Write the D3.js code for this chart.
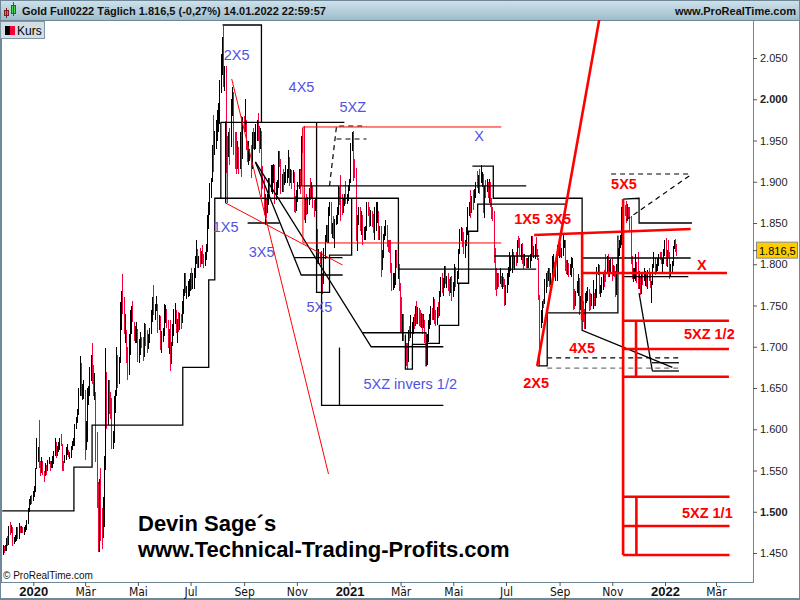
<!DOCTYPE html>
<html><head><meta charset="utf-8">
<script src="https://cdn.jsdelivr.net/npm/d3@7"></script>
<style>body{margin:0;background:#fff}svg{display:block}</style>
</head><body><svg id="c" width="800" height="600"></svg>
<script>
// ---------- DATA ----------
// daily bars grouped by month: [low, high, up(1)/down(0)]
const bars2019 = [
 [[1448,1460,1],[1450,1458,0],[1452,1460,1],[1453,1468,1]],
 [[1458,1471,0],[1460,1483,1],[1472,1488,0],[1474,1484,1],[1459,1482,0],[1461,1470,1],[1463,1472,1],[1464,1481,1],[1467,1482,0],[1467,1486,1],
  [1474,1483,0],[1474,1483,1],[1474,1481,0],[1472,1482,1],[1475,1484,1],[1478,1490,1],[1485,1504,1],[1500,1515,1],[1508,1519,1],[1510,1520,0],[1513,1525,1]]
];
const bars2020 = [
 [[1518,1531,1],[1524,1553,1],[1552,1590,1],[1560,1579,1],[1553,1611,0],[1543,1562,0],[1547,1566,1],[1545,1562,0],[1536,1550,0],[1543,1559,1],[1545,1557,0],
  [1550,1563,1],[1558,1566,1],[1550,1562,0],[1553,1562,1],[1553,1567,1],[1558,1574,1],[1568,1589,1],[1565,1584,0],[1567,1580,1],[1572,1585,1],[1575,1590,1]],
 [[1580,1594,0],[1550,1582,0],[1550,1562,0],[1559,1569,1],[1563,1578,1],[1569,1582,1],[1566,1575,0],[1564,1573,1],[1565,1580,1],[1575,1586,1],
  [1580,1589,1],[1580,1606,1],[1600,1615,1],[1608,1625,1],[1617,1650,1],[1640,1689,1],[1640,1680,0],[1635,1655,1],[1637,1660,1],[1563,1647,0]],
 [[1575,1610,1],[1585,1650,1],[1630,1652,1],[1640,1675,1],[1658,1690,1],[1655,1704,0],[1640,1678,0],[1635,1668,1],[1560,1645,0],[1504,1597,0],
  [1451,1536,0],[1451,1540,1],[1464,1553,0],[1455,1505,0],[1468,1518,1],[1482,1568,1],[1551,1698,1],[1600,1670,0],[1605,1660,1],[1618,1660,0],[1612,1645,0],[1576,1638,0]],
 [[1576,1598,1],[1583,1640,1],[1620,1648,1],[1640,1700,1],[1650,1690,0],[1655,1688,1],[1680,1754,1],[1720,1767,1],[1740,1788,0],[1716,1760,0],[1705,1740,1],
  [1680,1720,0],[1660,1700,0],[1666,1715,1],[1690,1745,1],[1715,1750,1],[1730,1755,0],[1707,1730,0],[1705,1725,1],[1705,1730,1],[1682,1721,0]],
 [[1680,1710,1],[1690,1718,1],[1698,1712,0],[1683,1712,0],[1688,1729,1],[1701,1727,0],[1692,1720,0],[1697,1716,1],[1704,1723,1],[1715,1744,1],
  [1730,1760,1],[1738,1775,0],[1733,1752,1],[1743,1762,1],[1717,1752,0],[1720,1738,1],[1696,1737,0],[1693,1719,1],[1706,1723,1],[1713,1752,1]],
 [[1729,1751,1],[1723,1746,0],[1699,1733,0],[1691,1722,1],[1671,1733,0],[1679,1706,1],[1701,1727,1],[1713,1746,1],[1727,1753,1],[1717,1745,0],[1705,1734,1],
  [1718,1742,0],[1720,1741,1],[1721,1740,0],[1729,1756,1],[1740,1770,1],[1762,1789,1],[1765,1790,0],[1758,1774,1],[1760,1780,1],[1762,1782,1],[1767,1790,1]],
 [[1769,1796,0],[1770,1790,1],[1770,1795,1],[1783,1810,1],[1800,1829,1],[1796,1818,0],[1795,1810,1],[1797,1820,0],[1800,1816,1],[1800,1823,0],[1795,1813,0],
  [1798,1815,1],[1805,1825,1],[1815,1860,1],[1843,1875,1],[1860,1898,1],[1880,1905,1],[1900,1945,1],[1912,1981,0],[1933,1962,1],[1940,1975,1],[1950,1987,1]],
 [[1960,1995,1],[1970,2023,1],[2008,2055,1],[2030,2075,1],[2015,2089,0],[2010,2040,1],[1911,2040,0],[1874,1955,0],[1930,1960,1],[1920,1965,0],[1942,2000,1],
  [1980,2015,1],[1932,2009,0],[1915,1960,0],[1910,1960,0],[1915,1950,1],[1910,1942,0],[1915,1960,1],[1906,1980,0],[1928,1978,1],[1960,1980,0]],
 [[1960,2000,1],[1938,1975,0],[1924,1950,0],[1920,1950,1],[1925,1940,1],[1905,1945,0],[1915,1960,1],[1940,1965,0],[1938,1960,1],[1940,1970,1],[1950,1975,1],
  [1950,1983,0],[1935,1968,0],[1940,1965,1],[1882,1962,0],[1891,1919,0],[1860,1907,0],[1848,1885,1],[1856,1880,0],[1862,1885,1],[1872,1905,1],[1880,1905,0]],
 [[1887,1920,1],[1885,1920,1],[1898,1922,1],[1873,1920,0],[1878,1900,1],[1884,1902,1],[1892,1937,1],[1918,1937,0],[1885,1927,0],[1887,1910,1],[1888,1915,0],
  [1896,1912,1],[1898,1920,1],[1899,1916,1],[1904,1939,1],[1895,1930,0],[1898,1915,1],[1891,1914,0],[1898,1914,1],[1863,1912,0],[1862,1883,0],[1864,1890,1]],
 [[1875,1900,1],[1891,1916,1],[1885,1915,0],[1895,1955,1],[1935,1965,0],[1854,1967,0],[1850,1880,1],[1860,1885,0],[1861,1881,1],[1872,1893,1],[1878,1905,0],
  [1880,1900,1],[1868,1895,0],[1857,1878,0],[1865,1880,1],[1830,1879,0],[1800,1843,0],[1800,1818,1],[1800,1815,0],[1774,1816,0],[1764,1790,0]],
 [[1776,1820,1],[1806,1836,1],[1827,1848,1],[1826,1848,0],[1826,1870,1],[1858,1875,1],[1837,1876,0],[1832,1850,1],[1831,1858,0],[1820,1855,1],[1848,1860,1],
  [1849,1870,1],[1860,1895,1],[1872,1894,0],[1852,1908,0],[1860,1885,0],[1862,1880,1],[1871,1885,1],[1873,1901,0],[1873,1885,1],[1877,1896,1],[1889,1903,1]]
];
const bars2021 = [
 [[1899,1947,1],[1937,1960,1],[1901,1962,0],[1904,1927,0],[1828,1917,0],[1816,1860,1],[1848,1870,1],[1840,1870,0],[1835,1865,1],[1823,1860,0],
  [1829,1845,1],[1830,1846,1],[1840,1875,1],[1858,1875,0],[1845,1870,0],[1846,1866,1],[1845,1864,0],[1838,1861,0],[1829,1869,1],[1840,1875,1]],
 [[1850,1875,1],[1829,1865,0],[1830,1846,1],[1785,1846,0],[1793,1817,1],[1808,1837,1],[1830,1846,1],[1834,1854,1],[1821,1848,0],[1815,1829,0],
  [1814,1830,0],[1790,1829,0],[1768,1801,0],[1769,1790,1],[1771,1790,1],[1775,1817,1],[1795,1817,0],[1782,1812,1],[1768,1800,0],[1717,1777,0]],
 [[1718,1760,0],[1707,1740,1],[1707,1740,0],[1690,1716,0],[1677,1705,0],[1673,1704,0],[1681,1720,1],[1707,1725,0],[1711,1739,1],[1698,1730,1],[1715,1736,1],
  [1722,1740,0],[1725,1750,1],[1727,1755,0],[1727,1748,1],[1725,1747,0],[1724,1745,0],[1723,1741,1],[1716,1740,0],[1723,1740,1],[1705,1732,0],[1677,1714,0],[1678,1716,1]],
 [[1706,1732,1],[1722,1740,1],[1726,1750,1],[1733,1747,0],[1733,1760,1],[1728,1758,0],[1725,1745,0],[1726,1748,1],[1735,1754,0],[1737,1767,1],[1760,1785,1],
  [1765,1790,0],[1762,1783,1],[1771,1798,1],[1776,1798,0],[1771,1786,1],[1767,1790,0],[1761,1782,0],[1765,1785,1],[1756,1786,0],[1760,1779,1]],
 [[1767,1800,1],[1773,1797,0],[1776,1792,1],[1782,1818,1],[1812,1843,1],[1828,1845,1],[1821,1844,0],[1813,1839,0],[1808,1830,1],[1822,1845,1],
  [1836,1869,1],[1858,1875,1],[1856,1890,0],[1862,1883,1],[1866,1890,0],[1874,1891,1],[1880,1900,1],[1893,1913,0],[1886,1908,1],[1885,1916,0]],
 [[1899,1920,1],[1894,1912,1],[1862,1910,0],[1856,1895,1],[1880,1902,0],[1888,1903,1],[1880,1900,0],[1874,1903,1],[1870,1900,0],[1855,1880,0],[1852,1869,0],
  [1802,1865,0],[1769,1820,0],[1761,1795,0],[1770,1790,1],[1772,1790,0],[1776,1795,1],[1773,1786,0],[1770,1790,1],[1772,1785,0],[1750,1782,0],[1751,1775,1]],
 [[1765,1790,1],[1775,1797,1],[1785,1815,1],[1792,1810,1],[1790,1818,1],[1795,1815,0],[1793,1810,1],[1798,1815,0],[1802,1830,1],[1820,1834,0],[1811,1832,0],
  [1805,1825,1],[1800,1826,0],[1794,1813,0],[1798,1812,1],[1795,1808,0],[1795,1808,1],[1795,1810,1],[1795,1812,1],[1804,1834,1],[1811,1834,0]],
 [[1807,1822,1],[1806,1824,1],[1810,1833,0],[1805,1819,0],[1757,1808,0],[1677,1763,0],[1723,1745,1],[1729,1755,1],[1747,1758,0],[1752,1782,1],[1765,1790,1],
  [1773,1792,0],[1780,1795,1],[1773,1795,0],[1775,1790,1],[1780,1810,1],[1794,1812,1],[1784,1803,0],[1780,1800,1],[1780,1823,1],[1810,1820,0],[1808,1824,1]],
 [[1809,1826,0],[1808,1820,1],[1810,1837,1],[1820,1830,1],[1792,1830,0],[1788,1805,0],[1787,1805,1],[1785,1802,0],[1787,1800,1],[1785,1809,1],[1795,1808,1],
  [1745,1795,0],[1746,1770,0],[1750,1768,1],[1765,1780,1],[1762,1788,1],[1738,1783,0],[1745,1761,1],[1740,1760,1],[1730,1755,0],[1721,1746,0],[1722,1765,1]],
 [[1753,1767,1],[1756,1772,1],[1743,1770,0],[1745,1765,0],[1749,1764,1],[1746,1781,1],[1750,1765,0],[1749,1770,1],[1759,1797,1],[1787,1800,1],[1764,1799,0],
  [1760,1775,1],[1765,1785,1],[1769,1788,1],[1772,1793,0],[1778,1813,0],[1790,1810,1],[1785,1812,0],[1785,1805,1],[1790,1806,1],[1780,1808,0]],
 [[1786,1799,1],[1785,1798,0],[1760,1792,0],[1763,1800,1],[1790,1820,1],[1810,1830,1],[1820,1835,1],[1823,1870,1],[1849,1868,1],[1857,1875,1],[1858,1872,0],
  [1850,1877,0],[1852,1873,1],[1855,1870,0],[1842,1870,0],[1800,1858,0],[1782,1810,0],[1778,1795,1],[1782,1796,1],[1780,1813,1],[1777,1803,0],[1770,1815,0]],
 [[1770,1792,1],[1763,1785,0],[1764,1788,1],[1775,1790,0],[1780,1795,1],[1774,1792,1],[1773,1790,0],[1770,1793,1],[1780,1795,0],[1771,1790,0],[1753,1780,1],
  [1775,1800,1],[1795,1815,1],[1787,1807,0],[1788,1800,1],[1792,1808,1],[1798,1812,1],[1805,1815,0],[1800,1815,0],[1790,1808,1],[1800,1818,1],[1810,1830,1]]
];
const bars2022 = [
 [[1798,1832,0],[1797,1817,1],[1808,1830,0],[1782,1815,0],[1785,1800,1],[1789,1804,1],[1798,1822,1],[1818,1829,1],[1815,1831,0],[1810,1825,0]]
];
const firstMonth = [2019, 10];
const firstDay = "2019-11-26", lastDay = "2022-01-15";
const lastPrice = 1816.5;

const priceTicks = [1450,1500,1550,1600,1650,1700,1750,1800,1850,1900,1950,2000,2050];
const boldTicks = [1500, 2000];
const monthNames = ["Jan","Feb","Mär","Apr","Mai","Jun","Jul","Aug","Sep","Okt","Nov","Dez"];

// annotation points: [days since 2020-01-01, price]
const blackLines = [
 [[-36,1501],[47,1501],[47,1554],[68,1554],[68,1605],[173,1605],[173,1675],[203,1675],[203,1781],[210,1781],[210,1880],[422.5,1880],[422.5,1794],[582,1794]],
 [[219,2090],[264,2090],[264,1972]],
 [[217,1972],[360,1972]],
 [[217,1972],[217,1880]],
 [[222.6,1973],[222.6,1874]],
 [[248,1850],[285,1850]],
 [[257,1924],[310,1787],[358,1787]],
 [[257,1924],[391,1700],[474.5,1700]],
 [[380.9,1717],[454.9,1717]],
 [[333.6,1814],[333.6,1629],[474.5,1629]],
 [[354.3,1699],[354.3,1629]],
 [[327.8,1972],[327.8,1766],[342.8,1766],[342.8,1811],[368.4,1811],[368.4,1880]],
 [[302.4,1808],[357.8,1808]],
 [[304.7,1895],[570.4,1895]],
 [[454.5,1704],[469.9,1704],[469.9,1726],[492.2,1726],[492.2,1777],[503.7,1777],[503.7,1840],[514.2,1840],[514.2,1873],[617,1873]],
 [[430.6,1714],[430.6,1673],[438.7,1673],[438.7,1703],[454.5,1703]],
 [[454.5,1717],[454.5,1676]],
 [[508.1,1919],[532.3,1919],[532.3,1880],[635.1,1880],[635.1,1720],[739.5,1675]],
 [[594.7,1741],[676.5,1741],[676.5,1835]],
 [[682.5,1879],[701,1880],[701,1850],[762.2,1850]],
 [[635.1,1807.6],[760.7,1807.6]],
 [[681.7,1785],[758,1785]],
 [[533.4,1810],[585.4,1810]],
 [[716,1680.6],[747.2,1680.6]],
 [[716,1670.6],[747.2,1670.6]],
 [[701,1765],[716.3,1671]],
 [[583,1676.7],[594.7,1676.7],[594.7,1741]]
];
const blackDashed = [
 [[342.8,1895],[350.9,1967.6],[385.5,1967.6]],
 [[350.9,1951.8],[385.5,1951.8]],
 [[668.6,1909.4],[762.2,1909.4]],
 [[686,1853.6],[762.2,1909.4]],
 [[594.7,1686.4],[747.2,1686.4]]
];
const grayDashed = [
 [[594.7,1674.2],[747.2,1674.2]]
];
const redThin = [
 [[222.6,1874.2],[357.8,1799.1]],
 [[229.6,2024.5],[341.6,1545.8]],
 [[312,1966.4],[541.5,1966.4]],
 [[312,1966.4],[312,1825.8]],
 [[312,1825.8],[541.5,1825.8]]
];
const redThick = [
 [[583.1,1676.7],[655.5,2100]],
 [[579.6,1835.5],[760.7,1842.7]],
 [[635.1,1839],[635.1,1732]],
 [[635.1,1789.4],[802.7,1789.4]],
 [[682.5,1879],[682.5,1447.6]],
 [[682.5,1731.6],[805,1731.6]],
 [[682.5,1697.3],[805,1697.3]],
 [[682.5,1663.7],[805,1663.7]],
 [[697.5,1731.6],[697.5,1663.7]],
 [[682.5,1518.2],[805.7,1518.2]],
 [[682.5,1482.7],[805.7,1482.7]],
 [[682.5,1447.6],[805.7,1447.6]],
 [[697.9,1518.2],[697.9,1447.6]]
];
const blueLabels = [
 ["2X5",220.3,2047.6],["4X5",295.4,2008.8],["5XZ",354.3,1984.5],["X",510.3,1949.4],
 ["1X5",207.6,1839.1],["3X5",249.2,1808.8],["5X5",316.2,1742.1],["5XZ invers 1/2",382.1,1648.8]
];
const redLabels = [
 ["1X5",556.5,1849.3],["3X5",592.3,1849.3],["5X5",668.6,1891.2],["2X5",567,1650],
 ["4X5",620.1,1692.4],["X",767.9,1793],["5XZ 1/2",752.9,1709.4],["5XZ 1/1",750.6,1492.4]
];

// ---------- CHART ----------
const W = 800, H = 600;
const P = {left: 2, right: 753, top: 20, bottom: 582};
const svg = d3.select("#c");
const T0 = new Date(2020, 0, 1);
const dayDate = d => new Date(T0.getTime() + d * 864e5);
const x = d3.scaleTime().domain([T0, new Date(2022, 0, 1)]).range([33.3, 665]);
const y = d3.scaleLinear().domain([1450, 2050]).range([553, 58]);
const CRED = "#f5003a", RED = "#ff0000", BLUE = "#5252e2";
const FONT = "Arial, 'Liberation Sans', sans-serif";
const de = d3.formatLocale({decimal: ",", thousands: ".", grouping: [3], currency: ["", "€"]});
const fmt = de.format(",");

// candles
const candles = [];
const fd = new Date(firstDay + "T00:00:00"), ld = new Date(lastDay + "T00:00:00");
[...bars2019, ...bars2020, ...bars2021, ...bars2022].forEach((list, mi) => {
  let s = new Date(firstMonth[0], firstMonth[1] + mi, 1), e = new Date(firstMonth[0], firstMonth[1] + mi + 1, 1);
  if (s < fd) s = fd; if (e > ld) e = ld;
  list.forEach((b, i) => candles.push({date: new Date(+s + (i + 0.5) * (e - s) / list.length), lo: b[0], hi: b[1], up: b[2]}));
});

// background & frame
const defs = svg.append("defs");
const g1 = defs.append("linearGradient").attr("id", "hdr").attr("x1", 0).attr("y1", 0).attr("x2", 0).attr("y2", 1);
g1.append("stop").attr("offset", "0%").attr("stop-color", "#cfe3ec");
g1.append("stop").attr("offset", "100%").attr("stop-color", "#9fbccb");
defs.append("clipPath").attr("id", "plot").append("rect")
  .attr("x", P.left).attr("y", P.top).attr("width", P.right - P.left).attr("height", P.bottom - P.top);

svg.append("rect").attr("width", W).attr("height", H).attr("fill", "#fff");
svg.append("rect").attr("x", 0).attr("y", 0).attr("width", W).attr("height", 20).attr("fill", "url(#hdr)");
svg.append("line").attr("x1", 0).attr("x2", W).attr("y1", 20.5).attr("y2", 20.5).attr("stroke", "#6e8897");
svg.append("rect").attr("x", 0.5).attr("y", 0.5).attr("width", W - 1).attr("height", H - 1).attr("fill", "none").attr("stroke", "#6e8897");
svg.append("line").attr("x1", 1.5).attr("x2", 1.5).attr("y1", 20).attr("y2", P.bottom).attr("stroke", "#6e8897");
svg.append("line").attr("x1", P.right + 0.5).attr("x2", P.right + 0.5).attr("y1", 20).attr("y2", P.bottom).attr("stroke", "#6e8897");
svg.append("line").attr("x1", 0).attr("x2", P.right + 1).attr("y1", P.bottom + 0.5).attr("y2", P.bottom + 0.5).attr("stroke", "#6e8897");
svg.append("line").attr("x1", 0).attr("x2", W).attr("y1", H - 1.5).attr("y2", H - 1.5).attr("stroke", "#6e8897");

// header
const hdr = svg.append("g");
hdr.append("rect").attr("x", 4.5).attr("y", 10.5).attr("width", 4).attr("height", 5).attr("fill", "#ef6a6a").attr("stroke", "#7a2020");
hdr.append("line").attr("x1", 6.5).attr("x2", 6.5).attr("y1", 8).attr("y2", 18).attr("stroke", "#7a2020");
hdr.append("rect").attr("x", 11.5).attr("y", 5.5).attr("width", 4).attr("height", 8).attr("fill", "#4fd24f").attr("stroke", "#1f6f1f");
hdr.append("line").attr("x1", 13.5).attr("x2", 13.5).attr("y1", 2).attr("y2", 16).attr("stroke", "#1f6f1f");
hdr.append("text").attr("x", 22).attr("y", 15).attr("font-family", FONT)
  .attr("font-size", 11).attr("font-weight", "bold").attr("fill", "#111")
  .text("Gold Full0222 Täglich 1.816,5 (-0,27%) 14.01.2022 22:59:57");
hdr.append("text").attr("x", 796).attr("y", 15).attr("text-anchor", "end").attr("font-family", FONT)
  .attr("font-size", 11).attr("font-weight", "bold").attr("fill", "#111").text("www.ProRealTime.com");

// plot layer
const plot = svg.append("g").attr("clip-path", "url(#plot)");
plot.selectAll("rect.c").data(candles).join("rect").attr("class", "c")
  .attr("x", d => Math.round(x(d.date)) - 0.5).attr("width", 1.6)
  .attr("y", d => y(d.hi)).attr("height", d => Math.max(1, y(d.lo) - y(d.hi)))
  .attr("fill", d => d.up ? "#000" : CRED).attr("shape-rendering", "crispEdges");

const ln = d3.line().x(p => x(dayDate(p[0]))).y(p => y(p[1]));
function draw(list, stroke, width, dash) {
  plot.append("g").selectAll("path").data(list).join("path").attr("d", ln)
    .attr("fill", "none").attr("stroke", stroke).attr("stroke-width", width)
    .attr("stroke-dasharray", dash || null);
}
draw(blackLines, "#000", 1.3);
draw(blackDashed, "#000", 1.2, "5,4");
draw(grayDashed, "#777", 1.2, "5,4");
draw(redThin, RED, 1);
draw(redThick, RED, 2.6);

plot.append("g").selectAll("text").data(blueLabels).join("text")
  .attr("x", d => x(dayDate(d[1]))).attr("y", d => y(d[2])).text(d => d[0])
  .attr("font-family", FONT).attr("font-size", 14.5).attr("fill", BLUE);
plot.append("g").selectAll("text").data(redLabels).join("text")
  .attr("x", d => x(dayDate(d[1]))).attr("y", d => y(d[2])).text(d => d[0])
  .attr("font-family", FONT).attr("font-size", 14.5).attr("font-weight", "bold").attr("fill", RED);

// watermark texts
const wm = svg.append("g").attr("font-family", FONT).attr("font-weight", "bold").attr("font-size", 22).attr("fill", "#000");
wm.append("text").attr("x", 138).attr("y", 531).text("Devin Sage´s");
wm.append("text").attr("x", 138).attr("y", 557).text("www.Technical-Trading-Profits.com");
svg.append("text").attr("x", 3).attr("y", 579).attr("font-family", FONT).attr("font-size", 10).attr("fill", "#111").text("© ProRealTime.com");

// Kurs legend
const lg = svg.append("g");
lg.append("rect").attr("x", 0.5).attr("y", 21.5).attr("width", 44).attr("height", 17).attr("fill", "#d3dde4").attr("stroke", "#7f97a5");
lg.append("rect").attr("x", 5).attr("y", 26).attr("width", 5).attr("height", 9).attr("fill", "#000");
lg.append("rect").attr("x", 10).attr("y", 26).attr("width", 5).attr("height", 9).attr("fill", CRED);
lg.append("text").attr("x", 17).attr("y", 35).attr("font-family", FONT).attr("font-size", 12).attr("fill", "#000").text("Kurs");

// y axis
const yAxis = svg.append("g").attr("transform", `translate(${P.right},0)`)
  .call(d3.axisRight(y).tickValues(priceTicks).tickSize(4).tickPadding(3).tickFormat(fmt));
yAxis.select(".domain").remove();
yAxis.selectAll("line").attr("stroke", "#555");
yAxis.selectAll("text").attr("font-family", FONT).attr("font-size", 11).attr("fill", "#222")
  .attr("font-weight", d => boldTicks.includes(d) ? "bold" : null);

// last price tag
const ly = y(lastPrice);
svg.append("rect").attr("x", 756.5).attr("y", ly - 8.5).attr("width", 41).attr("height", 16).attr("fill", "#ffcc00").attr("stroke", "#8a8a8a");
svg.append("line").attr("x1", P.right).attr("x2", 757).attr("y1", ly).attr("y2", ly).attr("stroke", "#555");
svg.append("text").attr("x", 759).attr("y", ly + 4).attr("font-family", FONT).attr("font-size", 11).attr("fill", "#000").text(fmt(lastPrice));

// x axis
const xTicks = d3.timeMonth.every(2).range(new Date(2020, 0, 1), new Date(2022, 3, 2));
const xAxis = svg.append("g").attr("transform", `translate(0,${P.bottom})`)
  .call(d3.axisBottom(x).tickValues(xTicks).tickSize(4)
    .tickFormat(d => d.getMonth() === 0 ? String(d.getFullYear()) : monthNames[d.getMonth()]));
xAxis.select(".domain").remove();
xAxis.selectAll("line").attr("stroke", "#555");
xAxis.selectAll("text").attr("y", 14).attr("dy", 0)
  .attr("font-family", d => d.getMonth() === 0 ? FONT : "'Liberation Sans Narrow', 'DejaVu Sans Condensed', Arial, sans-serif")
  .attr("font-size", d => d.getMonth() === 0 ? 13 : 12)
  .attr("font-weight", d => d.getMonth() === 0 ? "bold" : null).attr("fill", "#111");
</script></body></html>
